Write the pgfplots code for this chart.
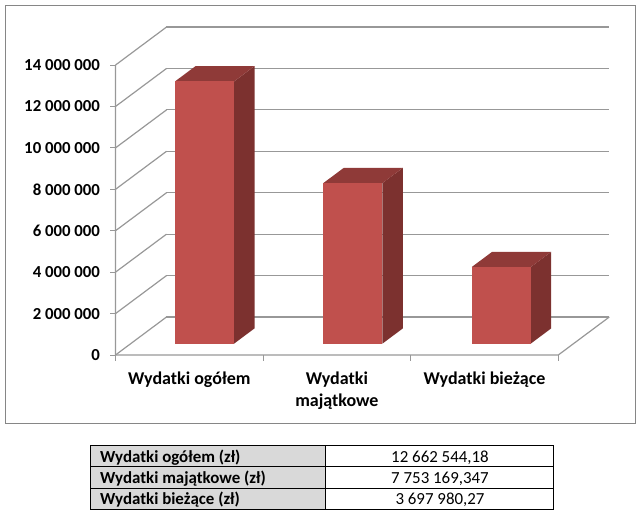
\documentclass[border=0pt]{standalone}
\usepackage{pgfplots}
\pgfplotsset{compat=1.18}
\usepackage{fontspec}
\setmainfont{Carlito}
\definecolor{barfront}{HTML}{C0504D}
\definecolor{bartop}{HTML}{8F3A38}
\definecolor{barside}{HTML}{7C312F}
\definecolor{gridgray}{HTML}{989898}
\definecolor{framegray}{HTML}{868686}
\definecolor{cellgray}{HTML}{D9D9D9}
\begin{document}
\begin{tikzpicture}[x=1pt,y=1pt]
% page = 639 x 516, axis origin sits at pixel (115.5,355)
\path[use as bounding box] (-115.5,-161) rectangle (523.5,355);
\draw[framegray,line width=1pt] (-110,-68) rectangle (519.5,349.5);
\begin{axis}[
  at={(0pt,0pt)},
  anchor=origin,
  x={(147.6pt,0pt)},
  y={(51pt,38pt)},
  z={(0pt,20.71pt)},
  xmin=0,xmax=3,ymin=0,ymax=1,zmin=0,zmax=14,
  clip=false,
  axis line style={draw=none},
  xtick={0.5,1.5,2.5},
  xticklabels={Wydatki ogółem,Wydatki\\majątkowe,Wydatki bieżące},
  ytick=\empty,
  ztick={0,2,4,6,8,10,12,14},
  zticklabels={0,2 000 000,4 000 000,6 000 000,8 000 000,10 000 000,12 000 000,14 000 000},
  zmajorgrids=true,
  major grid style={gridgray,line width=1.2pt},
  major tick length=0pt,
  xticklabel style={font=\fontsize{18}{22.5}\selectfont\bfseries,align=center,anchor=north,yshift=-13pt},
  zticklabel style={font=\fontsize{16.8}{20}\selectfont\bfseries,anchor=east,xshift=-12pt},
]
% floor and front edge
\addplot3[gridgray,line width=1.2pt,no markers] coordinates {(0,0,14) (0,0,0) (3,0,0) (3,1,0)};
% tick stubs
\addplot3[gridgray,line width=0.8pt,no markers] coordinates {(0,0,0) (0,0,-0.27)};
\addplot3[gridgray,line width=0.8pt,no markers] coordinates {(1,0,0) (1,0,-0.27)};
\addplot3[gridgray,line width=0.8pt,no markers] coordinates {(2,0,0) (2,0,-0.27)};
\addplot3[gridgray,line width=0.8pt,no markers] coordinates {(3,0,0) (3,0,-0.27)};
\addplot3[gridgray,line width=0.8pt,no markers] coordinates {(0,0,0) (-0.035,0,0)};
\addplot3[gridgray,line width=0.8pt,no markers] coordinates {(0,0,2) (-0.035,0,2)};
\addplot3[gridgray,line width=0.8pt,no markers] coordinates {(0,0,4) (-0.035,0,4)};
\addplot3[gridgray,line width=0.8pt,no markers] coordinates {(0,0,6) (-0.035,0,6)};
\addplot3[gridgray,line width=0.8pt,no markers] coordinates {(0,0,8) (-0.035,0,8)};
\addplot3[gridgray,line width=0.8pt,no markers] coordinates {(0,0,10) (-0.035,0,10)};
\addplot3[gridgray,line width=0.8pt,no markers] coordinates {(0,0,12) (-0.035,0,12)};
\addplot3[gridgray,line width=0.8pt,no markers] coordinates {(0,0,14) (-0.035,0,14)};
% Wydatki ogółem
\addplot3[draw=none,fill=barside,no markers] coordinates {(0.7,0.3,0) (0.7,0.7,0) (0.7,0.7,12.66254418) (0.7,0.3,12.66254418)};
\addplot3[draw=none,fill=bartop,no markers] coordinates {(0.3,0.3,12.66254418) (0.7,0.3,12.66254418) (0.7,0.7,12.66254418) (0.3,0.7,12.66254418)};
\addplot3[draw=none,fill=barfront,no markers] coordinates {(0.3,0.3,0) (0.7,0.3,0) (0.7,0.3,12.66254418) (0.3,0.3,12.66254418)};
% Wydatki majątkowe
\addplot3[draw=none,fill=barside,no markers] coordinates {(1.705,0.3,0) (1.705,0.7,0) (1.705,0.7,7.753169347) (1.705,0.3,7.753169347)};
\addplot3[draw=none,fill=bartop,no markers] coordinates {(1.305,0.3,7.753169347) (1.705,0.3,7.753169347) (1.705,0.7,7.753169347) (1.305,0.7,7.753169347)};
\addplot3[draw=none,fill=barfront,no markers] coordinates {(1.305,0.3,0) (1.705,0.3,0) (1.705,0.3,7.753169347) (1.305,0.3,7.753169347)};
% Wydatki bieżące
\addplot3[draw=none,fill=barside,no markers] coordinates {(2.71,0.3,0) (2.71,0.7,0) (2.71,0.7,3.69798027) (2.71,0.3,3.69798027)};
\addplot3[draw=none,fill=bartop,no markers] coordinates {(2.31,0.3,3.69798027) (2.71,0.3,3.69798027) (2.71,0.7,3.69798027) (2.31,0.7,3.69798027)};
\addplot3[draw=none,fill=barfront,no markers] coordinates {(2.31,0.3,0) (2.71,0.3,0) (2.71,0.3,3.69798027) (2.31,0.3,3.69798027)};
\end{axis}
% table under the chart
\fill[cellgray] (-25,-90.7) rectangle (210,-154.3);
\draw[black,line width=0.9pt] (-25,-90.7) rectangle (438,-154.3);
\draw[black,line width=0.9pt] (210,-90.7) -- (210,-154.3);
\draw[black,line width=0.9pt] (-25,-111.3) -- (438,-111.3);
\draw[black,line width=0.9pt] (-25,-133.3) -- (438,-133.3);
\begin{scope}[every node/.style={font=\fontsize{16.9}{20}\selectfont,inner sep=0pt}]
\node[anchor=base west] at (-15.5,-107) {\bfseries Wydatki ogółem (zł)};
\node[anchor=base west] at (-15.5,-128.5) {\bfseries Wydatki majątkowe (zł)};
\node[anchor=base west] at (-15.5,-149.5) {\bfseries Wydatki bieżące (zł)};
\node[anchor=base] at (324.5,-107) {12 662 544,18};
\node[anchor=base] at (324.5,-128.5) {7 753 169,347};
\node[anchor=base] at (324.5,-149.5) {3 697 980,27};
\end{scope}
\end{tikzpicture}
\end{document}
